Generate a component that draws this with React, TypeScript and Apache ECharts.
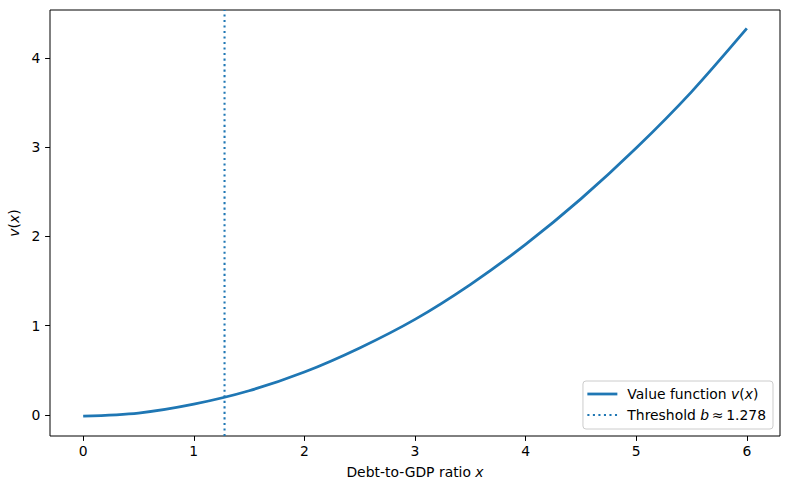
import React, { useEffect, useRef } from "react";
import * as echarts from "echarts";

const X_VALUES = [0, 0.5, 1, 1.5, 2, 2.5, 3, 3.5, 4, 4.5, 5, 5.5, 6];
const V_VALUES = [-0.015, 0.02, 0.12, 0.27, 0.48, 0.75, 1.07, 1.46, 1.91, 2.42, 2.99, 3.62, 4.33];
const THRESHOLD_B = 1.278;
const X_TICKS = [0, 1, 2, 3, 4, 5, 6];
const Y_TICKS = [0, 1, 2, 3, 4];
const X_MIN = -0.3;
const X_MAX = 6.3;
const Y_MIN = -0.237;
const Y_MAX = 4.537;

const FONT = "DejaVu Sans";
const FS = 13.9;
const BLUE = "#1f77b4";

export default function App() {
  const ref = useRef<HTMLDivElement>(null);
  useEffect(() => {
    if (!ref.current) return;
    document.body.style.margin = "0";
    const chart = echarts.init(ref.current, null, { renderer: "svg" });
    const rich = {
      n: { fontFamily: FONT, fontSize: FS, color: "#000" },
      i: { fontFamily: FONT, fontSize: FS, fontStyle: "italic", color: "#000" },
      p: { fontFamily: FONT, fontSize: FS, color: "#000", padding: [0, 0, 0, 5] },
    };
    chart.setOption({
      animation: false,
      backgroundColor: "#fff",
      grid: {
        left: 50,
        top: 10,
        width: 730,
        height: 426,
        show: true,
        borderColor: "#000",
        borderWidth: 1,
        containLabel: false,
        outerBoundsMode: "none",
      },
      xAxis: {
        type: "value",
        min: X_MIN,
        max: X_MAX,
        splitLine: { show: false },
        axisLine: { show: false, onZero: false },
        axisTick: { show: true, inside: false, length: 4.9, lineStyle: { color: "#000", width: 1 }, customValues: X_TICKS },
        axisLabel: { margin: 8, color: "#000", fontFamily: FONT, fontSize: FS, customValues: X_TICKS },
        name: "Debt-to-GDP ratio {i|x}",
        nameLocation: "middle",
        nameGap: 28.5,
        nameTextStyle: { fontFamily: FONT, fontSize: FS, color: "#000", rich },
      },
      yAxis: {
        type: "value",
        min: Y_MIN,
        max: Y_MAX,
        splitLine: { show: false },
        axisLine: { show: false, onZero: false },
        axisTick: { show: true, inside: false, length: 4.9, lineStyle: { color: "#000", width: 1 }, customValues: Y_TICKS },
        axisLabel: { margin: 9.7, color: "#000", fontFamily: FONT, fontSize: FS, customValues: Y_TICKS },
        name: "{i|v}({i|x})",
        nameLocation: "middle",
        nameRotate: 90,
        nameGap: 25,
        nameTextStyle: { fontFamily: FONT, fontSize: FS, color: "#000", rich },
      },
      legend: {
        right: 17,
        bottom: 61,
        orient: "vertical",
        align: "left",
        padding: [6, 7, 7, 3],
        itemWidth: 30,
        itemHeight: 14,
        itemGap: 7,
        backgroundColor: "rgba(255,255,255,0.8)",
        borderColor: "#cccccc",
        borderWidth: 1,
        borderRadius: 3,
        itemStyle: { opacity: 0 },
        lineStyle: { width: "inherit" },
        textStyle: { fontFamily: FONT, fontSize: FS, color: "#000", rich },
        data: ["Value function", "Threshold"],
        formatter: (name: string) =>
          name === "Value function"
            ? "{p|Value function }{i|v}{n|(}{i|x}{n|)}"
            : "{p|Threshold }{i|b}{n|\u2009\u2248\u20091.278}",
      },
      series: [
        {
          name: "Value function",
          type: "line",
          data: X_VALUES.map((x, i) => [x, V_VALUES[i]]),
          smooth: 0.3,
          symbol: "none",
          lineStyle: { color: BLUE, width: 2.78 },
          itemStyle: { color: BLUE },
        },
        {
          name: "Threshold",
          type: "line",
          data: [
            [THRESHOLD_B, Y_MIN],
            [THRESHOLD_B, Y_MAX],
          ],
          symbol: "none",
          lineStyle: { color: BLUE, width: 2.08, type: [2.08, 3.44], cap: "butt" },
          itemStyle: { color: BLUE },
        },
      ],
    });
    return () => chart.dispose();
  }, []);
  return <div ref={ref} style={{ width: 790, height: 490 }} />;
}

const _unused = React;
